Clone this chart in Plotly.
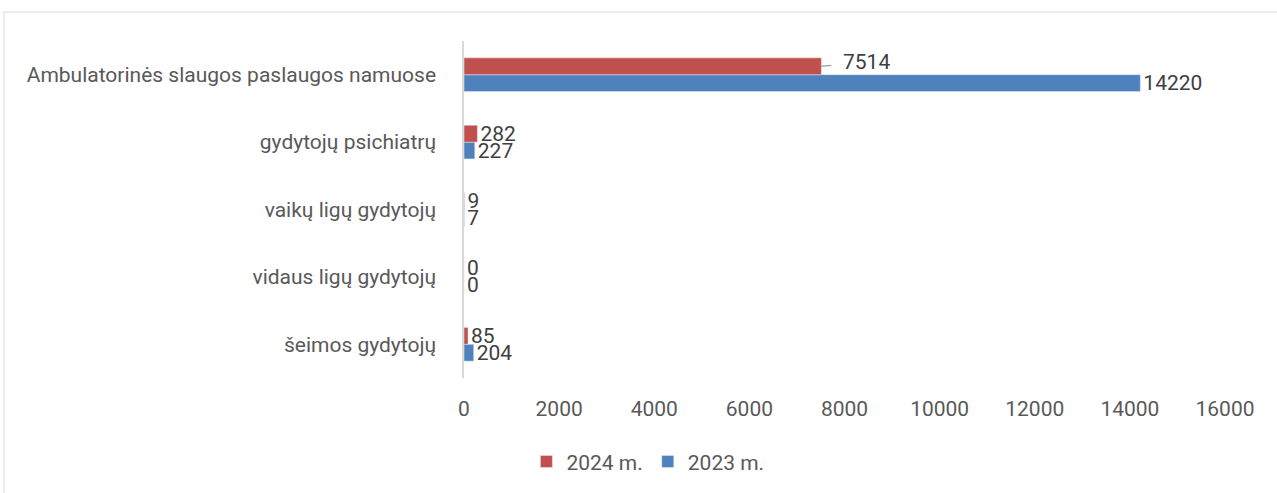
import plotly.graph_objects as go

categories = ["šeimos gydytojų", "vidaus ligų gydytojų", "vaikų ligų gydytojų",
              "gydytojų psichiatrų", "Ambulatorinės slaugos paslaugos namuose"]
values_2023 = [204, 0, 7, 227, 14220]
values_2024 = [85, 0, 9, 282, 7514]
series_names = ["2023 m.", "2024 m."]
x_ticks = [0, 2000, 4000, 6000, 8000, 10000, 12000, 14000, 16000]

FONT = "Roboto, 'Open Sans', sans-serif"
RED = "#C0504D"
BLUE = "#4F81BD"

# the biggest 2024 label is drawn with a leader line (annotation)
big_idx = values_2024.index(max(values_2024))
text_2024 = [str(v) if i != big_idx else "" for i, v in enumerate(values_2024)]
text_2023 = [str(v) for v in values_2023]

fig = go.Figure()
fig.add_trace(go.Bar(
    y=categories, x=values_2023, name=series_names[0], orientation="h",
    marker=dict(color=BLUE), text=text_2023, textposition="outside",
    textfont=dict(family=FONT, size=21, color="#404040"),
    constraintext="none", cliponaxis=False,
))
fig.add_trace(go.Bar(
    y=categories, x=values_2024, name=series_names[1], orientation="h",
    marker=dict(color=RED), text=text_2024, textposition="outside",
    textfont=dict(family=FONT, size=21, color="#404040"),
    constraintext="none", cliponaxis=False,
))

fig.add_annotation(
    x=values_2024[big_idx], y=big_idx + 0.125, xref="x", yref="y",
    text=str(values_2024[big_idx]), showarrow=True, arrowhead=0,
    ax=45, ay=-4, arrowcolor="#A6A6A6", arrowwidth=1.5,
    startstandoff=10, standoff=0,
    font=dict(family=FONT, size=21, color="#404040"),
)

# outer chart frame
fig.add_shape(type="rect", xref="paper", yref="paper",
              x0=-0.6045, x1=1.2, y0=-0.5, y1=1.0858,
              line=dict(color="#D9D9D9", width=1), fillcolor="rgba(0,0,0,0)",
              layer="below")

fig.update_layout(
    width=1277, height=493,
    margin=dict(l=464, r=52, t=41, b=114),
    paper_bgcolor="white", plot_bgcolor="white",
    barmode="group", bargap=0.5, bargroupgap=0,
    showlegend=True,
    legend=dict(orientation="h", x=0.082, xanchor="left", y=-0.245, yanchor="middle",
                traceorder="reversed", font=dict(family=FONT, size=21, color="#595959"),
                itemwidth=30),
    font=dict(family=FONT, size=21, color="#595959"),
)
fig.update_xaxes(range=[0, 16000], tickvals=x_ticks, ticktext=[str(t) for t in x_ticks],
                 showgrid=False, zeroline=False, showline=False,
                 ticks="outside", ticklen=12, tickcolor="rgba(0,0,0,0)",
                 tickfont=dict(family=FONT, size=21, color="#595959"))
fig.update_yaxes(categoryorder="array", categoryarray=categories,
                 showgrid=False, zeroline=False, showline=True,
                 linecolor="#D9D9D9", linewidth=1.5,
                 ticks="outside", ticklen=22, tickcolor="rgba(0,0,0,0)",
                 tickfont=dict(family=FONT, size=21, color="#595959"))

fig.write_html("out.html", config={"displayModeBar": False},
               post_script="document.body.style.margin='0';")
